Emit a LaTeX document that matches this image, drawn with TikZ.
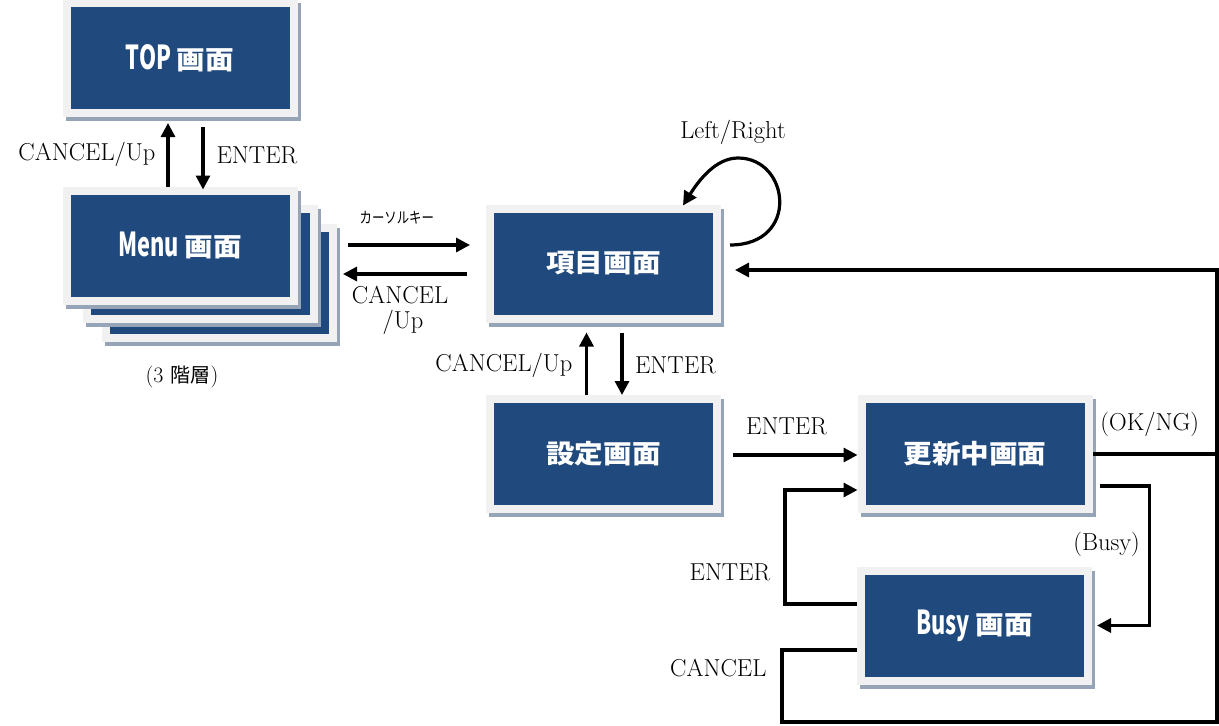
\documentclass[tikz,border=0pt]{standalone}
\usepackage{fontspec}
\usetikzlibrary{arrows.meta,calc}
\newfontfamily\jp{Noto Sans CJK JP}
\definecolor{scrblue}{RGB}{32,73,125}
\definecolor{scrframe}{RGB}{241,241,241}
\definecolor{scrshadow}{RGB}{150,164,184}

% condensed Latin part of a screen title
\newcommand\boxlatin[1]{\scalebox{0.6}[1]{\fontsize{33}{33}\selectfont #1}}
% screen title, slightly widened
\newcommand\screentitle[1]{\scalebox{1.1}[1]{#1}}

\tikzset{
  screen/.style={draw=scrframe, fill=scrblue, line width=8pt,
    minimum width=227pt, minimum height=110pt, inner sep=0pt,
    text=white, font=\jp\bfseries\fontsize{26}{26}\selectfont,
    preaction={draw=scrshadow, fill=scrshadow,
      transform canvas={shift={(3pt,-4pt)}}}},
  wire/.style={line width=3.2pt},
  arr/.style={wire, -{Triangle[length=14pt,width=14pt]}},
  lbl/.style={font=\fontsize{24.5}{28}\selectfont, inner sep=0pt},
  jplbl/.style={font=\jp\fontsize{15.5}{15.5}\selectfont, inner sep=0pt},
}

\begin{document}
\begin{tikzpicture}[x=1pt,y=-1pt]
\useasboundingbox (0,0) rectangle (1219,726);

% screens
\node[screen] (top) at (180,58) {\screentitle{\boxlatin{TOP}\hspace{5pt}画面}};
\node[screen] (menu3) at (219.5,283) {};
\node[screen] (menu2) at (200.5,264) {};
\node[screen] (menu1) at (180,245.5) {\screentitle{\boxlatin{Menu}\hspace{5pt}画面}};
\node[lbl, anchor=center, font=\fontsize{22}{26}\selectfont] (layers) at (182,377)
  {(3\hspace{7pt}{\jp\fontsize{20}{20}\selectfont 階層})};
\node[screen] (item) at (603.5,263.5) {\screentitle{項目画面}};
\node[screen] (setting) at (603.5,454) {\screentitle{設定画面}};
\node[screen] (update) at (975,454) {\screentitle{更新中画面}};
\node[screen] (busy) at (974.5,625.5) {\screentitle{\boxlatin{Busy}\hspace{5pt}画面}};

\coordinate (rjoin) at (1217,454);
\coordinate (rbot) at (1217,722);

% TOP <-> Menu
\draw[arr] ($(menu1.north)+(-12,0)$) -- node[lbl, left=11pt] {CANCEL/Up} ($(top.south)+(-12,6)$);
\draw[arr] ($(top.south)+(23,10)$) -- node[lbl, right=12pt, yshift=3pt] {ENTER} ($(menu1.north)+(23,3)$);

% Menu <-> item
\draw[arr] ($(menu3.east)+(11,-38)$) -- node[jplbl, pos=0.4, above=19pt]
  {\scalebox{0.8}[1]{カーソルキー}} ($(item.west)+(-16,-18.5)$);
\draw[arr] ($(item.west)+(-19,10.5)$) -- node[lbl, pos=0.54, below=11pt, align=center]
  {CANCEL\\[-3pt]\hspace{6pt}/Up} ($(menu3.east)+(6,-9)$);

% item self loop
\draw[arr] ($(item.east)+(9,-18.5)$) .. controls (800,245) and (790,158) .. (738,158)
  .. controls (716,158) and (699,180) .. ($(item.north)+(79.5,1)$);
\node[lbl] (lr) at (733,132) {Left/Right};

% item <-> setting
\draw[arr] ($(setting.north)+(-17,0)$) -- node[lbl, left=12.5pt, yshift=-2pt] {CANCEL/Up} ($(item.south)+(-17,10)$);
\draw[arr] ($(item.south)+(18.5,10)$) -- node[lbl, right=11.5pt, yshift=-2pt] {ENTER} ($(setting.north)+(18.5,0)$);

% setting -> update
\draw[arr] ($(setting.east)+(12,1)$) -- node[lbl, pos=0.43, above=19pt] {ENTER} ($(update.west)+(0,1)$);

% update -> item (result)
\draw[arr] (update.east) -- node[lbl, pos=0.46, above=16pt] {(OK/NG)} (rjoin)
  |- ($(item.east)+(14,6.5)$);

% update -> busy
\draw[arr] ($(update.east)+(7,32)$) -- ++(50,0)
  |- node[lbl, pos=0.21, left=8pt] {(Busy)} ($(busy.east)+(5,0)$);

% busy -> update
\draw[arr] ($(busy.west)+(0,-21.5)$) -- ++(-72,0)
  |- node[lbl, pos=0.14, left=13pt] {ENTER} ($(update.west)+(0,36)$);

% busy cancel, joins the result line
\draw[wire] ($(busy.west)+(0,24.5)$) -- ++(-75,0)
  |- node[lbl, pos=0.125, left=14pt] {CANCEL} (rbot) -- (rjoin);
\end{tikzpicture}
\end{document}
